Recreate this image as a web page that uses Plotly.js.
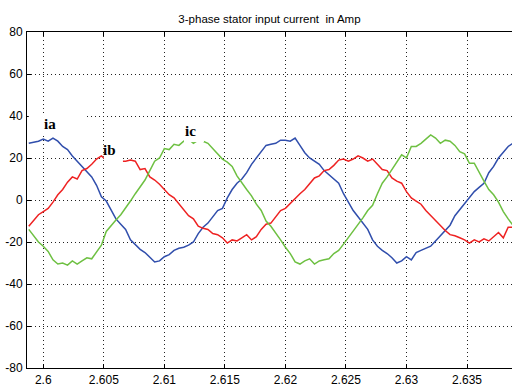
<!DOCTYPE html>
<html>
<head>
<meta charset="utf-8">
<script src="https://cdn.plot.ly/plotly-3.0.1.min.js"></script>
<style>
html,body{margin:0;padding:0;overflow:hidden;background:#fff;width:512px;height:388px;}
#chart{width:540px;height:388px;}
</style>
</head>
<body>
<div id="chart"></div>
<script>
const time = [
 2.5988,2.5992,2.5996,2.6000,2.6004,2.6008,2.6012,2.6016,2.6020,2.6024,
 2.6028,2.6032,2.6036,2.6040,2.6044,2.6048,2.6052,2.6056,2.6060,2.6064,
 2.6068,2.6072,2.6076,2.6080,2.6084,2.6088,2.6092,2.6096,2.6100,2.6104,
 2.6108,2.6112,2.6116,2.6120,2.6124,2.6128,2.6132,2.6136,2.6140,2.6144,
 2.6148,2.6152,2.6156,2.6160,2.6164,2.6168,2.6172,2.6176,2.6180,2.6184,
 2.6188,2.6192,2.6196,2.6200,2.6204,2.6208,2.6212,2.6216,2.6220,2.6224,
 2.6228,2.6232,2.6236,2.6240,2.6244,2.6248,2.6252,2.6256,2.6260,2.6264,
 2.6268,2.6272,2.6276,2.6280,2.6284,2.6288,2.6292,2.6296,2.6300,2.6304,
 2.6308,2.6312,2.6316,2.6320,2.6324,2.6328,2.6332,2.6336,2.6340,2.6344,
 2.6348,2.6352,2.6356,2.6360,2.6364,2.6368,2.6372,2.6376,2.6380,2.6384,
 2.6388
];
const ia = [
 27,27.5,28,29,28,29.5,28,25.5,24,21,
 18.5,16.5,14,11,7,1.5,-0.5,-5,-9,-11.5,
 -14,-19,-21.5,-23.5,-25,-27.5,-29.5,-29,-27,-26,
 -24,-23,-22.5,-21.5,-20,-16,-13,-11,-8,-5,
 -4,1,5,8,10,13,17,20,23,26,
 26.5,27,28.5,28.5,28,29.5,26,22.5,20,18.5,
 17,14,12,10,8,3,-1,-5,-8,-11,
 -14,-19,-22,-24,-25.5,-27.5,-30,-29,-27,-28.5,
 -25,-24,-23,-22,-19.5,-17,-14,-12,-7.5,-4.5,
 -2,1,4,6,8,13,16,20,23,25.5,
 27
];
const ib = [
 -12.5,-9.5,-7,-5.5,-4,-1,2.5,5,8.5,11,
 10,14,15,17,19.5,21,19,18.5,18,18.5,
 18.5,19,18.5,14.5,15,11,9.5,7.5,5,2.5,
 1,-2,-4.5,-7.5,-9,-12.5,-13.5,-14,-16,-16.5,
 -18,-20.5,-19,-19.5,-18,-16.5,-19,-17.5,-14,-11.5,
 -11,-8,-5,-4,-1.5,1,3,5,8,10.5,
 11.5,14,14.5,16.5,19,19.5,18.5,19.5,21,20,
 18.5,19.5,17,14.5,14,10.5,9,8,4,1,
 -0.5,-2,-5,-7.5,-10,-12,-14.5,-16.5,-17,-18,
 -19,-20.5,-19,-20,-18.5,-19.5,-17.5,-15.5,-18,-13,
 -13
];
const ic = [
 -14,-17,-20,-22,-24.5,-28.5,-30.5,-30,-31,-29,
 -30.5,-29,-27.5,-28,-25,-21.5,-15,-12,-9.5,-7,
 -4,-0.5,3,6.5,9.5,14,18.5,20,24.5,24,
 26.5,26,28,29,27,28.5,28,27,24.5,22,
 19.5,18,16,11.5,8,5,2,-2,-5,-10,
 -12.5,-15.5,-19,-22.5,-25.5,-29.5,-30.5,-29,-28,-30.5,
 -29,-28.5,-28,-25.5,-24,-21,-18,-15,-12,-8.5,
 -5,-2.5,3,8,11,14.5,18,21.5,20,25.5,
 25.5,27,29,31,29.5,27,28.5,28,26,23,
 22,17.5,17.5,13,9,5,2.5,-1,-5.5,-9,
 -12
];
const xTicks = [2.6,2.605,2.61,2.615,2.62,2.625,2.63,2.635];
const xTickText = ['2.6','2.605','2.61','2.615','2.62','2.625','2.63','2.635'];
const yTicks = [-80,-60,-40,-20,0,20,40,60,80];
const yTickText = ['-80','-60','-40','-20','0','20','40','60','80'];
const labelNames = ['ia','ib','ic'];
const labelX = [2.60055,2.60543,2.61220];
const labelY = [36.2,23.8,32.8];

const line = (c)=>({color:c,width:1.5});
const traces = [
 {x:time,y:ia,mode:'lines',line:line('rgb(48,78,172)'),hoverinfo:'skip'},
 {x:time,y:ib,mode:'lines',line:line('rgb(238,34,34)'),hoverinfo:'skip'},
 {x:time,y:ic,mode:'lines',line:line('rgb(110,192,66)'),hoverinfo:'skip'}
];
const axisCommon = {
 showline:true, linecolor:'#000', linewidth:1, mirror:'ticks',
 ticks:'inside', ticklen:4, tickcolor:'#000',
 showgrid:true, gridcolor:'#222', gridwidth:1, griddash:'1px,3px',
 zeroline:false, tickfont:{family:'Liberation Sans, Arial, sans-serif',size:12,color:'#000'}
};
const layout = {
 width:540, height:388,
 margin:{l:27,r:0,t:32,b:20},
 paper_bgcolor:'#fff', plot_bgcolor:'#fff',
 showlegend:false,
 title:{text:'3-phase stator input current\u00a0 in Amp',
   font:{family:'Liberation Sans, Arial, sans-serif',size:11.5,color:'#000'},
   xref:'container',x:0.499,xanchor:'center',yref:'container',y:0.952,yanchor:'middle'},
 xaxis:Object.assign({},axisCommon,{range:[2.598654,2.641030],tickvals:xTicks,ticktext:xTickText,ticklabelstandoff:1}),
 yaxis:Object.assign({},axisCommon,{range:[-80,80],tickvals:yTicks,ticktext:yTickText,ticklabelstandoff:1}),
 shapes:[
  {type:'rect',layer:'above',xref:'x',yref:'y',x0:2.5988,x1:2.60344,y0:31.9,y1:41.4,fillcolor:'#fff',line:{width:0}},
  {type:'rect',layer:'above',xref:'x',yref:'y',x0:2.6050,x1:2.60658,y0:17.6,y1:27.6,fillcolor:'#fff',line:{width:0}},
  {type:'rect',layer:'above',xref:'x',yref:'y',x0:2.61162,x1:2.61327,y0:27.6,y1:38.6,fillcolor:'#fff',line:{width:0}}
 ],
 annotations: labelNames.map((t,k)=>({text:'<b>'+t+'</b>',x:labelX[k],y:labelY[k],xref:'x',yref:'y',
   showarrow:false,xanchor:'center',yanchor:'middle',
   font:{family:'Liberation Serif, Times New Roman, serif',size:15,color:'#000'}}))
};
Plotly.newPlot('chart',traces,layout,{staticPlot:true,displayModeBar:false});
</script>
</body>
</html>
